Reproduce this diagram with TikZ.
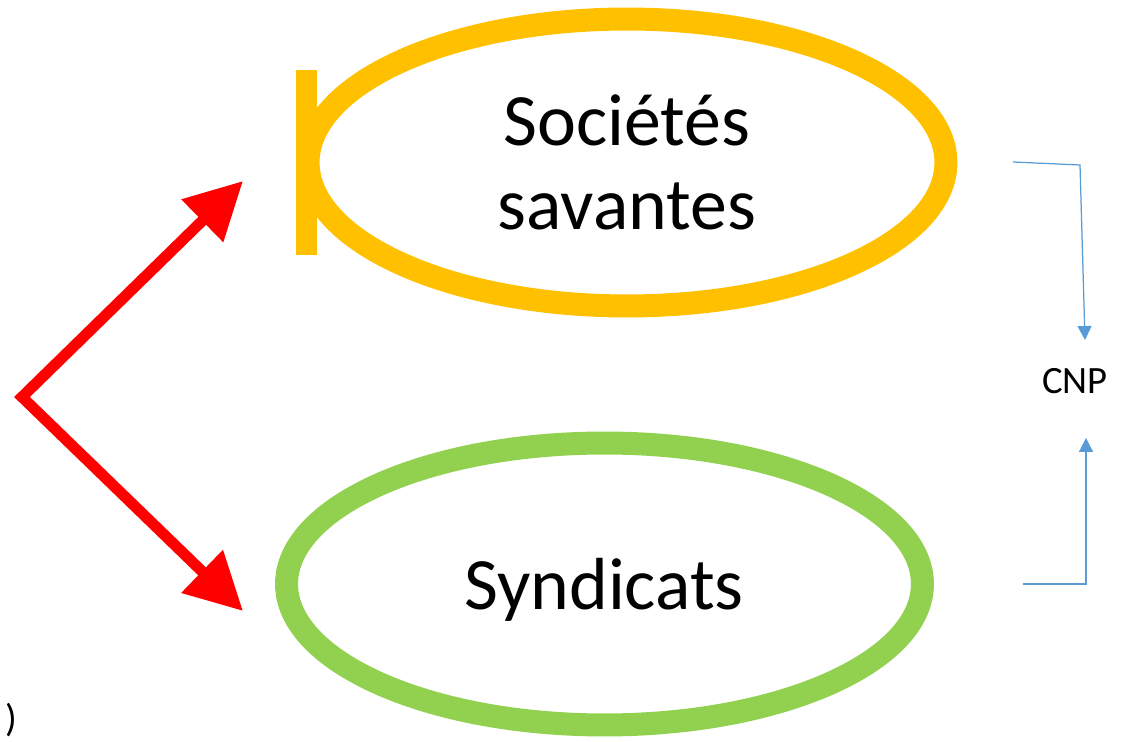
\documentclass[tikz,border=0pt]{standalone}
\usepackage{fontspec}
\setmainfont{Carlito}
\usetikzlibrary{arrows.meta,shapes.geometric}

\definecolor{socOrange}{HTML}{FFC000}
\definecolor{synGreen}{HTML}{92D050}
\definecolor{cnpBlue}{HTML}{5B9BD5}

\newcommand{\ringThick}{0.46cm}
\newcommand{\redThick}{0.22cm}
\newcommand{\blueThick}{0.025cm}
\newcommand{\bigHead}{Triangle[length=1.14cm,width=1.14cm]}
\newcommand{\smallHead}{Triangle[length=0.28cm,width=0.28cm]}

\begin{document}
\begin{tikzpicture}[x=0.02cm, y=-0.02cm,
  ring/.style={ellipse, draw, line width=\ringThick, inner sep=0pt, align=center,
               font=\fontsize{42}{48}\selectfont},
  bigText/.style={inner sep=0pt, font=\fontsize{42}{48}\selectfont},
  redLink/.style={draw=red, line width=\redThick, line join=miter, {\bigHead}-{\bigHead}},
  blueLink/.style={draw=cnpBlue, line width=\blueThick, -{\smallHead}}]

  \useasboundingbox (0,0) rectangle (1126,742);

  % Ellipses:
  \node[ring, draw=socOrange, minimum width=12.76cm, minimum height=5.74cm] (soc) at (627,162.5) {Sociétés\\savantes};
  \node[ring, draw=synGreen,  minimum width=12.72cm, minimum height=5.64cm] (syn) at (604.5,584) {};
  \node[bigText] (synText) at (604,590) {Syndicats};

  % Bar on the left of the orange one:
  \fill[socOrange] (296,70) rectangle (317,255);

  % Red arrows:
  \coordinate (fork)   at (22,397);
  \coordinate (socTip) at (243,181);
  \coordinate (synTip) at (243,611);
  \draw[redLink] (socTip) -- (fork) -- (synTip);

  % CNP:
  \node[font=\fontsize{22}{26}\selectfont, inner sep=0pt] (cnp) at (1075,381) {CNP};
  \coordinate (socOut)  at (1013,162);
  \coordinate (socBend) at (1080,165);
  \coordinate (cnpTop)  at (1085,340);
  \coordinate (synOut)  at (1023,584);
  \coordinate (synBend) at (1086,584);
  \coordinate (cnpBot)  at (1086,438);
  \draw[blueLink] (socOut) -- (socBend) -- (cnpTop);
  \draw[blueLink] (synOut) -- (synBend) -- (cnpBot);

  % Bracket, bottom left:
  \node[font=\fontsize{22}{26}\selectfont, inner sep=0pt] (brk) at (11,720) {)};

\end{tikzpicture}
\end{document}
